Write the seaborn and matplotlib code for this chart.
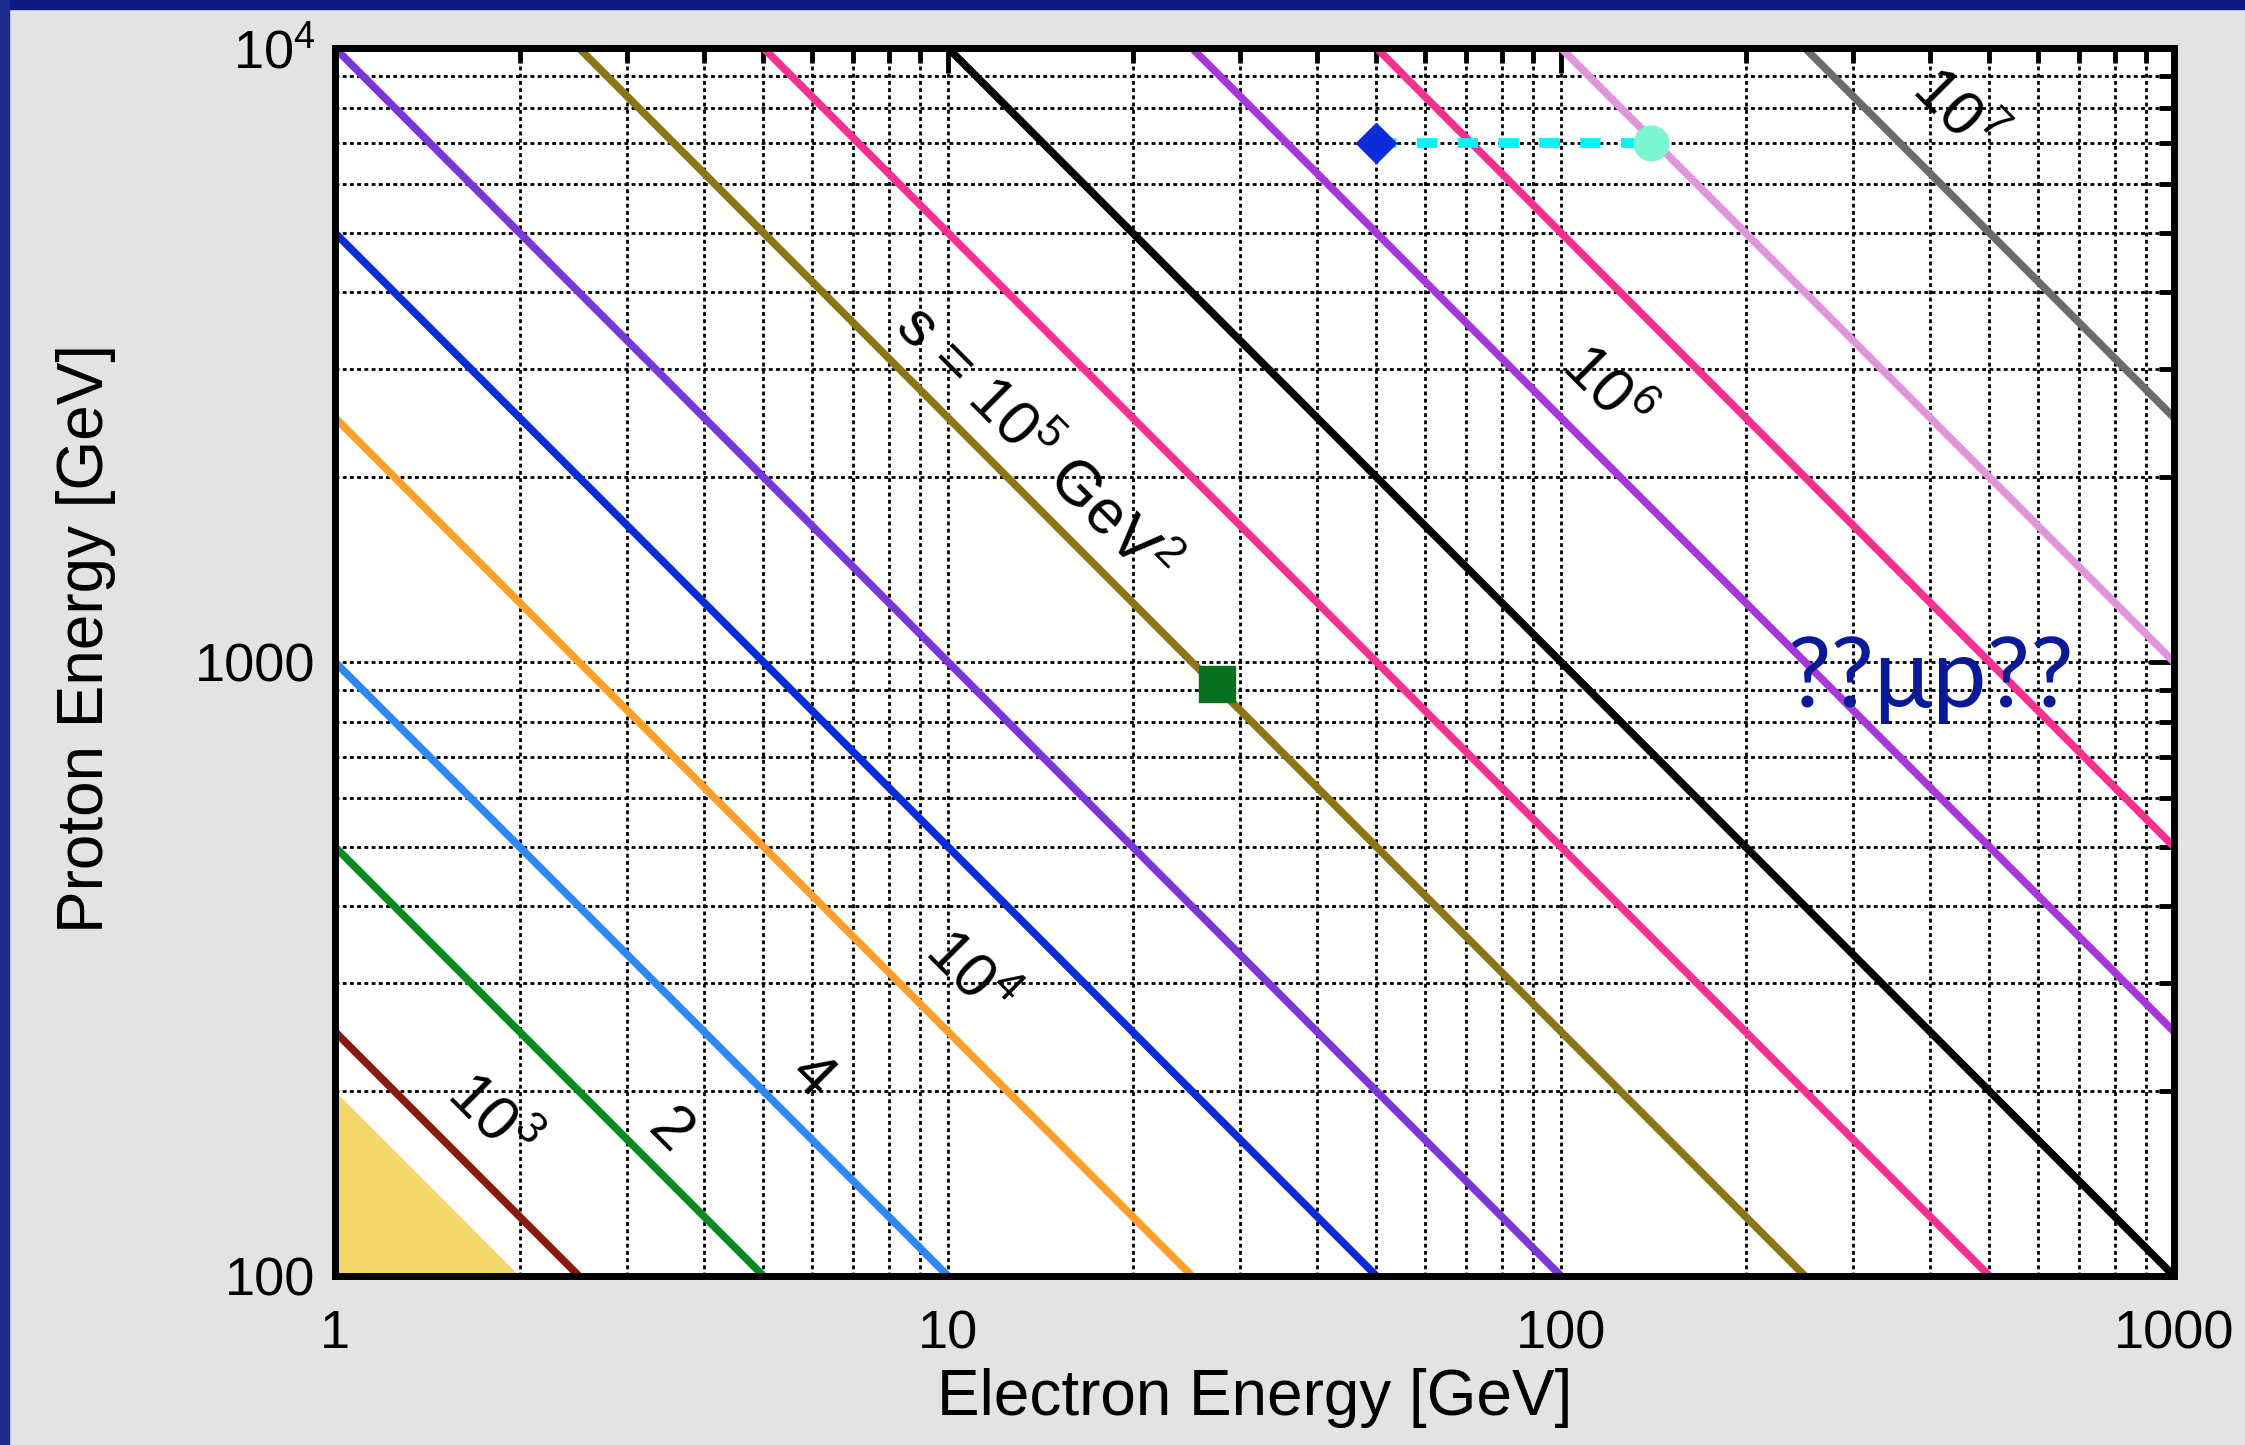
import numpy as np
import pandas as pd
import matplotlib
matplotlib.use("Agg")
import matplotlib.pyplot as plt
import matplotlib.ticker as mticker
from matplotlib.patches import Rectangle
import seaborn as sns

# centre-of-mass energy squared s = 4 * E_e * E_p for each iso-s line [GeV^2]
s_values = [1e3, 2e3, 4e3, 1e4, 2e4, 4e4, 1e5, 2e5, 4e5, 1e6, 2e6, 4e6, 1e7]
s_colors = ["#8b1a0c", "#0a8a22", "#2f86f6", "#ff9f2b", "#0a2bd9", "#7b36d9",
            "#8c7515", "#f7308f", "#000000", "#a638d9", "#f7308f", "#e195dd",
            "#6b6b6d"]

# electron energies at which each line is evaluated (axis limits)
ee_ends = [1.0, 1000.0]

# line labels: text, electron energy, proton energy
label_texts = [r"$\mathregular{10^3}$", "2", "4", r"$\mathregular{10^4}$",
               r"s = $\mathregular{10^5}$ GeV$\mathregular{^2}$",
               r"$\mathregular{10^6}$", r"$\mathregular{10^7}$"]
label_ee = [1.79, 3.52, 6.0, 10.8, 13.8, 118.0, 440.0]
label_ep = [181.0, 172.0, 211.0, 310.0, 2250.0, 2770.0, 7870.0]

# colliders: HERA, LHeC-like and upgrade point
hera_ee, hera_ep = 27.5, 920.0
lhec_ee, lhec_ep = 50.0, 7000.0
upg_ee, upg_ep = 140.0, 7000.0

# shaded low-energy region
tri_ee = [1.0, 1.0, 2.0]
tri_ep = [100.0, 200.0, 100.0]

x_ticks = [1, 10, 100, 1000]
x_ticklabels = ["1", "10", "100", "1000"]
y_ticks = [100, 1000, 10000]
y_ticklabels = ["100", "1000", r"$\mathregular{10^4}$"]

sns.set_style("white")
plt.rcParams["font.family"] = ["Liberation Sans", "DejaVu Sans"]
plt.rcParams["mathtext.fontset"] = "custom"
plt.rcParams["mathtext.rm"] = "Liberation Sans"
plt.rcParams["mathtext.it"] = "Liberation Sans:italic"
plt.rcParams["mathtext.bf"] = "Liberation Sans:bold"
plt.rcParams["text.color"] = "black"
plt.rcParams["axes.labelcolor"] = "black"
plt.rcParams["xtick.color"] = "black"
plt.rcParams["ytick.color"] = "black"
plt.rcParams["xtick.labelcolor"] = "black"
plt.rcParams["ytick.labelcolor"] = "black"

rows = []
for s in s_values:
    for ee in ee_ends:
        rows.append({"Ee": ee, "Ep": s / (4.0 * ee), "s": s})
lines_df = pd.DataFrame(rows)
palette = dict(zip(s_values, s_colors))

fig = plt.figure(figsize=(22.45, 14.45), dpi=100, facecolor="#e2e3e2")
ax = fig.add_axes([335 / 2245, 1 - 1276 / 1445, (2174 - 335) / 2245, (1276 - 48) / 1445])
ax.set_facecolor("white")

# frame strips along the top and left edges
fig.patches.append(Rectangle((0, 1 - 9 / 1445), 1, 9 / 1445, transform=fig.transFigure,
                             color="#0e1b82", zorder=0))
fig.patches.append(Rectangle((0, 0), 9 / 2245, 1, transform=fig.transFigure,
                             color="#1c2a8c", zorder=0))

ax.set_xscale("log")
ax.set_yscale("log")
ax.set_xlim(1, 1000)
ax.set_ylim(100, 10000)

ax.fill(tri_ee, tri_ep, color="#f4d66a", zorder=1, lw=0)

sns.lineplot(data=lines_df, x="Ee", y="Ep", hue="s", palette=palette, legend=False,
             linewidth=5.5, ax=ax, zorder=3, sort=True)

# collider markers
ax.plot([lhec_ee, upg_ee], [lhec_ep, upg_ep], color="#00f5f5", lw=7,
        linestyle=(0, (2.1, 2.1)), zorder=4)
ax.plot([lhec_ee], [lhec_ep], marker="D", ms=20, color="#0a2bd8", zorder=5, lw=0)
ax.plot([upg_ee], [upg_ep], marker="o", ms=25, color="#7df5d0", zorder=5, lw=0)
ax.plot([hera_ee], [hera_ep], marker="s", ms=26, color="#08711f", zorder=5, lw=0)

for txt, xe, yp in zip(label_texts, label_ee, label_ep):
    ax.text(xe, yp, txt, rotation=-45, rotation_mode="anchor", ha="center",
            va="center", fontsize=45, color="black", zorder=6)

ax.text(400, 845, "??μp??", family=["Lato", "DejaVu Sans"], fontsize=70,
        color="#0a1a96", ha="center", va="baseline", zorder=6)

# ticks and grid
ax.xaxis.set_major_locator(mticker.FixedLocator(x_ticks))
ax.xaxis.set_major_formatter(mticker.FixedFormatter(x_ticklabels))
ax.yaxis.set_major_locator(mticker.FixedLocator(y_ticks))
ax.yaxis.set_major_formatter(mticker.FixedFormatter(y_ticklabels))
ax.xaxis.set_minor_locator(mticker.LogLocator(base=10, subs=np.arange(2, 10)))
ax.yaxis.set_minor_locator(mticker.LogLocator(base=10, subs=np.arange(2, 10)))
ax.xaxis.set_minor_formatter(mticker.NullFormatter())
ax.yaxis.set_minor_formatter(mticker.NullFormatter())

ax.tick_params(which="both", direction="in", top=True, right=True, color="black",
               labelcolor="black")
ax.tick_params(which="major", length=18, width=3.5, labelsize=39)
ax.tick_params(axis="x", which="major", pad=24)
ax.tick_params(axis="y", which="major", pad=14)
ax.tick_params(which="minor", length=11, width=3.5)
ax.grid(which="both", color="black", linestyle=(0, (1.4, 1.2)), linewidth=2.0)
ax.set_axisbelow(True)
for sp in ax.spines.values():
    sp.set_linewidth(5)
    sp.set_color("black")
    sp.set_zorder(7)

ax.set_xlabel("Electron Energy [GeV]", fontsize=46, labelpad=6, color="black")
ax.set_ylabel("Proton Energy [GeV]", fontsize=46, color="black")
ax.yaxis.set_label_coords(-0.119, 0.519)

fig.savefig("out.png", dpi=100, facecolor=fig.get_facecolor())
